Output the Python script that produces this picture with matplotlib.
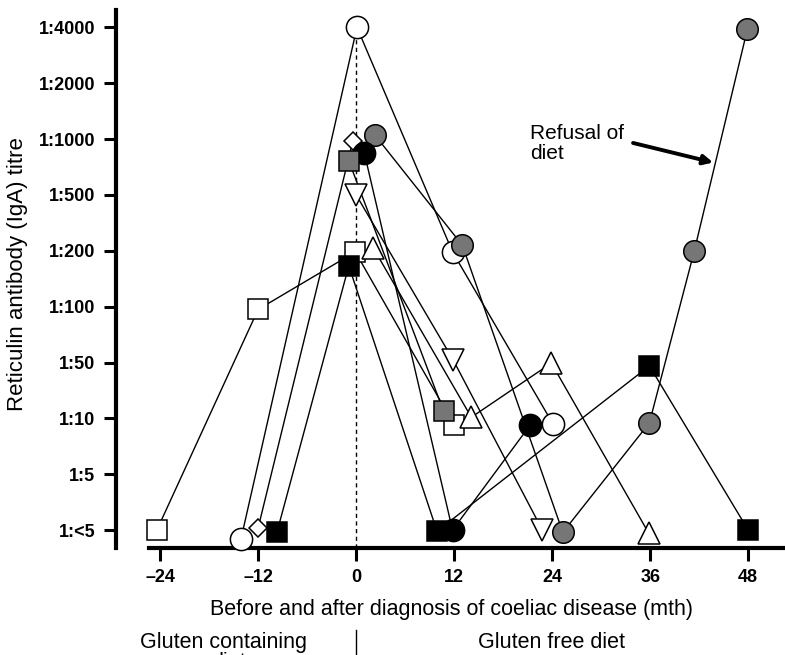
import matplotlib.pyplot as plt
from matplotlib.lines import Line2D

plt.rcParams["font.family"] = ["Liberation Sans", "DejaVu Sans"]

titre_labels = ["1:<5", "1:5", "1:10", "1:50", "1:100", "1:200",
                "1:500", "1:1000", "1:2000", "1:4000"]
month_ticks = [-24, -12, 0, 12, 24, 36, 48]
month_labels = ["\u201324", "\u201312", "0", "12", "24", "36", "48"]

# months vs titre level (index into titre_labels; fractions where the
# original nudged overlapping symbols apart)
open_sq_m = [-24.4, -12.0, -0.1, 12.0]
open_sq_t = [0.0, 3.95, 4.98, 1.88]

open_circ_m = [-14.1, 0.1, 11.8, 24.1]
open_circ_t = [-0.16, 9.0, 4.98, 1.90]

diamond_m = [-12.0, -0.4]
diamond_t = [0.04, 6.97]

stip_circ_m = [2.3, 13.0, 25.3, 35.9, 41.4, 47.9]
stip_circ_t = [7.07, 5.10, -0.04, 1.92, 5.0, 8.97]

fill_circ_m = [1.0, 11.8, 21.3]
fill_circ_t = [6.75, 0.0, 1.88]

stip_sq_m = [-0.9, 10.7]
stip_sq_t = [6.61, 2.13]

tri_down_m = [0.0, 11.9, 22.8]
tri_down_t = [6.0, 3.04, 0.0]

tri_up_m = [2.1, 14.1, 23.9, 35.8]
tri_up_t = [5.05, 2.02, 2.99, -0.05]

fill_sq_m = [-9.7, -0.9, 9.9, 35.9, 48.0]
fill_sq_t = [-0.04, 4.73, -0.02, 2.94, 0.0]

STIPPLE = "#767676"

# drawn back to front
series = [
    (open_sq_m, open_sq_t, "s", "white", 15),
    (open_circ_m, open_circ_t, "o", "white", 16),
    (diamond_m, diamond_t, "D", "white", 9.5),
    (stip_circ_m, stip_circ_t, "o", STIPPLE, 15.5),
    (fill_circ_m, fill_circ_t, "o", "black", 16),
    (stip_sq_m, stip_sq_t, "s", STIPPLE, 15),
    (tri_down_m, tri_down_t, "v", "white", 16),
    (tri_up_m, tri_up_t, "^", "white", 16),
    (fill_sq_m, fill_sq_t, "s", "black", 15),
]

W, H = 785, 655
fig = plt.figure(figsize=(W / 100, H / 100), dpi=100)
ax = fig.add_axes([116 / W, (H - 548) / H, 1 - 116 / W, (548 - 10) / H])

ax.set_xlim(-29.4, 52.5)
ax.set_ylim(-0.32, 9.31)

# diagnosis line
ax.plot([0, 0], [-0.32, 9.0], color="black", lw=1.0, dashes=(3, 2.5), zorder=1)

for m, t, mk, fc, ms in series:
    ax.plot(m, t, color="black", lw=1.0, zorder=2, solid_capstyle="butt")
for i, (m, t, mk, fc, ms) in enumerate(series):
    ax.plot(m, t, linestyle="none", marker=mk, markersize=ms,
            markerfacecolor=fc, markeredgecolor="black", markeredgewidth=1.1,
            zorder=3 + i, clip_on=False)

for side in ("top", "right"):
    ax.spines[side].set_visible(False)
ax.spines["left"].set_linewidth(3)
ax.spines["bottom"].set_linewidth(3)
ax.spines["bottom"].set_bounds(-25.4, 52.5)

ax.set_yticks(range(len(titre_labels)), titre_labels)
ax.set_xticks(month_ticks, month_labels)
ax.tick_params(axis="y", length=9, width=2.2, pad=6, labelsize=13)
ax.tick_params(axis="x", length=9, width=2.2, pad=6, labelsize=13)
for lab in ax.get_yticklabels() + ax.get_xticklabels():
    lab.set_fontweight("bold")

# refusal annotation
ax.text(21.3, 7.27, "Refusal of\ndiet", fontsize=15, va="top", ha="left",
        linespacing=1.05)
ax.annotate("", xy=(43.7, 6.58), xytext=(33.9, 6.93),
            arrowprops=dict(arrowstyle="-|>", lw=2.8, color="black",
                            mutation_scale=14, shrinkA=0, shrinkB=0))

fig.text(452 / W, (H - 615) / H,
         "Before and after diagnosis of coeliac disease (mth)",
         fontsize=15.5, ha="center", va="baseline")
fig.text(18 / W, 1 - 274 / H, "Reticulin antibody (IgA) titre",
         fontsize=16, rotation=90, ha="center", va="center")

fig.text(140 / W, (H - 648) / H, "Gluten containing", fontsize=15.5,
         ha="left", va="baseline")
fig.text(228 / W, (H - 668) / H, "diet", fontsize=15.5, ha="center",
         va="baseline")
fig.text(551 / W, (H - 648) / H, "Gluten free diet", fontsize=15.5,
         ha="center", va="baseline")
fig.add_artist(Line2D([356 / W, 356 / W], [0, (H - 630) / H],
                      color="black", lw=1.0))

fig.savefig("out.png", dpi=100)
